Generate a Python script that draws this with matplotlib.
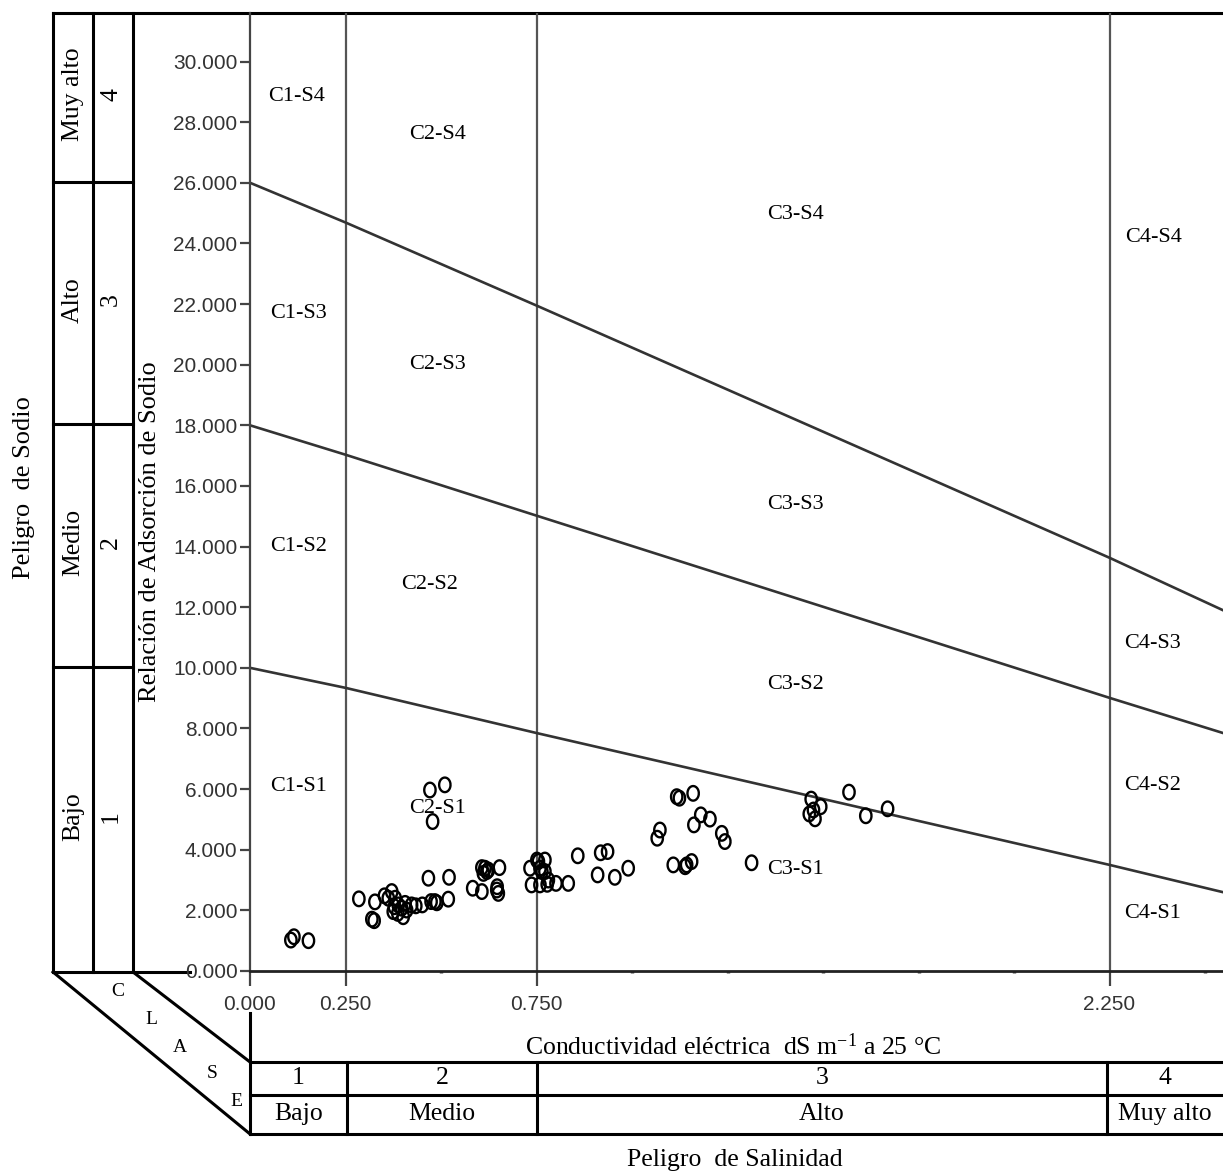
import numpy as np
import matplotlib
matplotlib.use('Agg')
import matplotlib.pyplot as plt
from matplotlib import font_manager
from matplotlib.path import Path
from matplotlib.ticker import FixedLocator, FuncFormatter

# ---- data ----
# conductividad electrica (dS/m) and RAS of each sample
ec = [0.107, 0.115, 0.153,
      0.285, 0.327, 0.319, 0.325, 0.352, 0.362, 0.371, 0.380, 0.378, 0.375,
      0.388, 0.387, 0.397, 0.401, 0.406, 0.410, 0.423, 0.434, 0.451, 0.474,
      0.484, 0.489, 0.519, 0.467, 0.521, 0.471, 0.510, 0.478,
      0.607, 0.615, 0.624, 0.611, 0.620, 0.653, 0.583, 0.607, 0.646, 0.650,
      0.647, 0.733, 0.751, 0.755, 0.772, 0.759, 0.764, 0.772, 0.737, 0.759,
      0.781, 0.778, 0.801, 0.833, 0.858, 0.918, 0.936, 0.910, 0.955, 0.990,
      1.073, 1.066, 1.108, 1.117, 1.124, 1.139, 1.143, 1.156, 1.160, 1.162,
      1.180, 1.204, 1.235, 1.243, 1.313,
      1.469, 1.464, 1.479, 1.494, 1.475, 1.568, 1.612, 1.669]
sar = [1.02, 1.13, 1.00,
       2.38, 2.28, 1.71, 1.66, 2.48, 2.40, 2.62, 2.40, 2.12, 1.96,
       2.18, 1.90, 2.07, 1.79, 2.23, 2.01, 2.18, 2.15, 2.18, 2.29,
       2.29, 2.25, 2.37, 3.06, 3.09, 5.97, 6.14, 4.93,
       3.41, 3.39, 3.33, 3.22, 3.28, 3.41, 2.73, 2.62, 2.67, 2.56,
       2.78, 3.39, 3.66, 3.61, 3.66, 3.39, 3.28, 3.28, 2.84, 2.84,
       3.00, 2.86, 2.89, 2.89, 3.80, 3.90, 3.94, 3.17, 3.09, 3.39,
       4.65, 4.38, 3.50, 5.75, 5.70, 3.44, 3.50, 3.61, 5.86, 4.82,
       5.15, 5.01, 4.54, 4.27, 3.57,
       5.67, 5.18, 5.02, 5.42, 5.31, 5.90, 5.12, 5.35]

# sodium hazard boundaries
bound_ec = [0.0, 0.25, 0.75, 2.25, 2.547]
bound_s1_s2 = [10.0, 9.34, 7.85, 3.50, 2.60]
bound_s2_s3 = [18.0, 17.03, 15.02, 9.01, 7.85]
bound_s3_s4 = [26.0, 24.69, 21.95, 13.63, 11.90]

class_limits = [0.25, 0.75, 2.25]
x_ticks = [0.0, 0.25, 0.75, 2.25]
x_minor = [0.5, 1.0, 1.25, 1.5, 1.75, 2.0, 2.5]
y_ticks = list(range(0, 31, 2))

zone_names = ['C1-S4', 'C2-S4', 'C3-S4', 'C4-S4',
              'C1-S3', 'C2-S3', 'C3-S3', 'C4-S3',
              'C1-S2', 'C2-S2', 'C3-S2', 'C4-S2',
              'C1-S1', 'C2-S1', 'C3-S1', 'C4-S1']
zone_x = [0.123, 0.491, 1.427, 2.364,
          0.126, 0.491, 1.427, 2.363,
          0.126, 0.471, 1.427, 2.363,
          0.126, 0.490, 1.427, 2.363]
zone_y = [28.84, 27.60, 24.95, 24.19,
          21.70, 20.00, 15.38, 10.81,
          14.00, 12.74, 9.44, 6.11,
          6.07, 5.37, 3.36, 1.90]

sodio_names = ['Muy alto', 'Alto', 'Medio', 'Bajo']
sodio_nums = ['4', '3', '2', '1']
sal_names = ['Bajo', 'Medio', 'Alto', 'Muy alto']
sal_nums = ['1', '2', '3', '4']

# ---- fonts ----
installed = {f.name for f in font_manager.fontManager.ttflist}
tick_font = 'Liberation Sans Narrow' if 'Liberation Sans Narrow' in installed else 'Liberation Sans'
plt.rcParams['font.family'] = ['Liberation Serif', 'DejaVu Serif']
plt.rcParams['mathtext.fontset'] = 'custom'
plt.rcParams['mathtext.rm'] = 'Liberation Serif'
plt.rcParams['mathtext.it'] = 'Liberation Serif:italic'

W, H = 1223, 1176
fig = plt.figure(figsize=(W / 100, H / 100), dpi=100)

# overlay in pixel units for the table frame around the plot
fr = fig.add_axes([0, 0, 1, 1])
fr.set_xlim(0, W)
fr.set_ylim(H, 0)
fr.axis('off')


def seg(x0, y0, x1, y1, lw=2.2):
    fr.plot([x0, x1], [y0, y1], color='black', lw=lw, solid_capstyle='projecting')


# left table (sodium hazard)
seg(53, 13, W, 13)
for xv in [53, 93, 133]:
    seg(xv, 13, xv, 972)
row_edges = [13, 182, 424, 667, 972]
for yv in row_edges[1:-1]:
    seg(53, yv, 133, yv)
seg(53, 972, 190, 972)
for i in range(4):
    yc = (row_edges[i] + row_edges[i + 1]) / 2 - 3
    fr.text(73, yc, sodio_names[i], rotation=90, ha='center', va='center', fontsize=18.5)
    fr.text(111, yc, sodio_nums[i], rotation=90, ha='center', va='center', fontsize=18.5)

# diagonal "CLASE" band
seg(53, 972, 250, 1134)
seg(133, 972, 250, 1062)
for ch, (tx, ty) in zip('CLASE', [(118, 992), (151, 1019), (180, 1047), (212, 1073), (236, 1101)]):
    fr.text(tx, ty, ch, ha='center', va='center', fontsize=14)

# bottom table (salinity hazard)
col_edges = [250, 347, 537, 1107, W]
seg(250, 1013, 250, 1134)
for yv in [1062, 1095, 1134]:
    seg(250, yv, W, yv)
for xv in col_edges[1:-1]:
    seg(xv, 1062, xv, 1134)
for i in range(4):
    xc = (col_edges[i] + col_edges[i + 1]) / 2
    fr.text(xc, 1078, sal_nums[i], ha='center', va='center', fontsize=18.5)
    fr.text(xc, 1114, sal_names[i], ha='center', va='center', fontsize=18.5)

fr.text(733, 1047, 'Conductividad eléctrica  dS m$^{-1}$ a 25 °C',
        ha='center', va='center', fontsize=18.5)
fr.text(735, 1160, 'Peligro  de Salinidad', ha='center', va='center', fontsize=18.5)
fr.text(24, 488, 'Peligro  de Sodio', rotation=90, ha='center', va='center', fontsize=19)
fr.text(150, 532, 'Relación de Adsorción de Sodio', rotation=90,
        ha='center', va='center', fontsize=19)

# ---- main plot ----
ax = fig.add_axes([250 / W, 1 - 971 / H, (W - 250) / W, 958 / H])
ax.set_facecolor('none')
ax.set_xlim(0, 2.547)
ax.set_ylim(0, 31.6)

for xv in class_limits:
    ax.axvline(xv, color='#555555', lw=1.6, zorder=1)

for yb in [bound_s1_s2, bound_s2_s3, bound_s3_s4]:
    ax.plot(bound_ec, yb, color='#333333', lw=1.9, zorder=2)

t = np.linspace(0, 2 * np.pi, 60)
oval = Path(np.column_stack([0.78 * np.cos(t), np.sin(t)]))
ax.scatter(ec, sar, marker=oval, s=110, facecolors='none', edgecolors='black',
           linewidths=1.7, zorder=3)

for name, zx, zy in zip(zone_names, zone_x, zone_y):
    ax.text(zx, zy, name, ha='center', va='center', fontsize=16, zorder=4)

ax.spines['top'].set_visible(False)
ax.spines['right'].set_visible(False)
ax.spines['left'].set_color('#444444')
ax.spines['left'].set_linewidth(1.6)
ax.spines['bottom'].set_color('#222222')
ax.spines['bottom'].set_linewidth(2.0)

ax.yaxis.set_major_locator(FixedLocator(y_ticks))
ax.yaxis.set_major_formatter(FuncFormatter(lambda v, p: '{:.3f}'.format(v)))
ax.xaxis.set_major_locator(FixedLocator(x_ticks))
ax.xaxis.set_minor_locator(FixedLocator(x_minor))
ax.xaxis.set_major_formatter(FuncFormatter(lambda v, p: '{:.3f}'.format(v)))

ax.tick_params(axis='y', direction='out', length=7, width=1.6, color='#444444',
               pad=2, labelsize=15, labelcolor='#333333')
ax.tick_params(axis='x', which='major', direction='out', length=11, width=1.6,
               color='#444444', pad=6, labelsize=15, labelcolor='#333333')
ax.tick_params(axis='x', which='minor', direction='out', length=1.5, width=2.5,
               color='#444444')
for lab in ax.get_xticklabels() + ax.get_yticklabels():
    lab.set_fontfamily(tick_font)

fig.savefig('out.png', dpi=100)
